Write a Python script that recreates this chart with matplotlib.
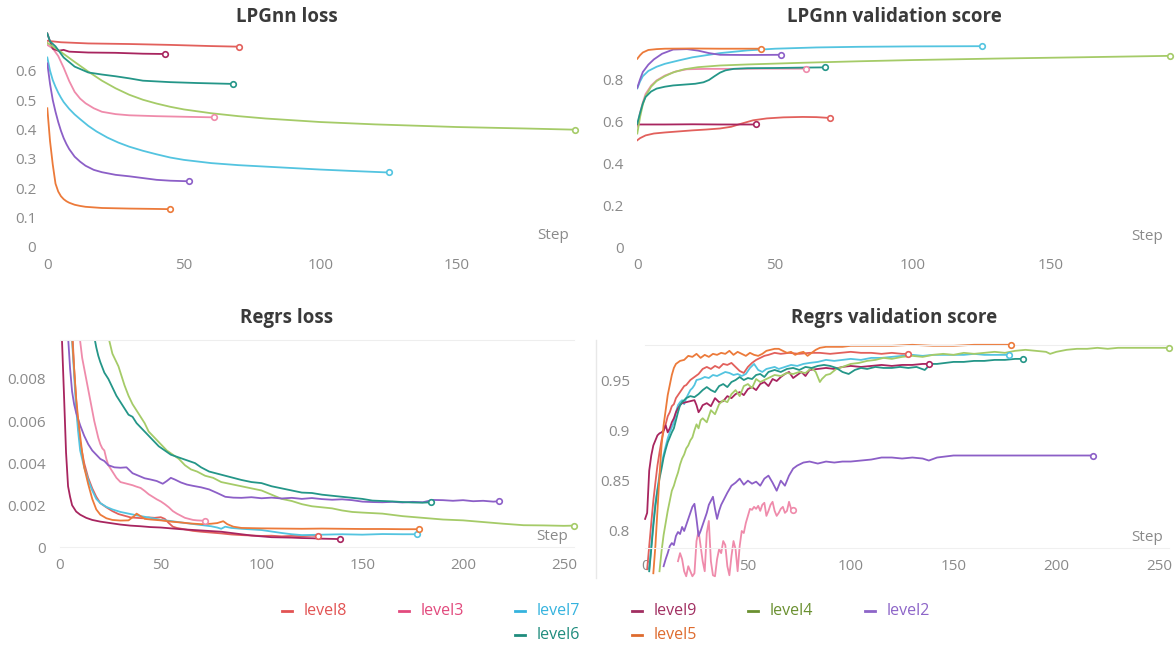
#!/usr/bin/env python3

import matplotlib
matplotlib.use('Agg')
import matplotlib.pyplot as plt
from matplotlib.lines import Line2D
from matplotlib.ticker import FuncFormatter

runs = ['level8', 'level3', 'level7', 'level9', 'level4', 'level2', 'level6', 'level5']
lineColors = ['#e2605c', '#ef8bab', '#53c4e0', '#a8255f', '#a5cb68', '#8c5fc7', '#249688', '#ec7a3a']
textColors = ['#e25353', '#e24a7d', '#35b3de', '#a12f61', '#6a9030', '#8d65c8', '#1f8c7d', '#de6b2f']

# ---- LPGnn loss ----
lploss_level8_step = [0, 5, 15, 30, 45, 60, 70]
lploss_level8 = [0.702, 0.697, 0.693, 0.691, 0.688, 0.684, 0.682]
lploss_level3_step = [0, 2, 4, 6, 8, 10, 12, 14, 17, 20, 25, 30, 40, 50, 61]
lploss_level3 = [0.688, 0.676, 0.650, 0.610, 0.565, 0.528, 0.505, 0.489, 0.472, 0.460, 0.452, 0.448, 0.445, 0.443, 0.441]
lploss_level7_step = [0, 1, 2, 3, 4, 5, 6, 8, 10, 12, 15, 18, 22, 26, 30, 35, 40, 45, 50, 60, 70, 80, 90, 100, 112, 125]
lploss_level7 = [0.645, 0.600, 0.568, 0.545, 0.525, 0.508, 0.493, 0.470, 0.451, 0.435, 0.412, 0.393, 0.372, 0.355, 0.341, 0.327, 0.315, 0.304, 0.296, 0.285, 0.278, 0.273, 0.268, 0.263, 0.258, 0.253]
lploss_level9_step = [0, 1, 2, 4, 6, 8, 15, 25, 35, 43]
lploss_level9 = [0.727, 0.700, 0.675, 0.668, 0.671, 0.665, 0.662, 0.661, 0.658, 0.657]
lploss_level4_step = [0, 5, 10, 15, 20, 25, 30, 35, 40, 45, 50, 60, 70, 80, 100, 120, 150, 175, 193]
lploss_level4 = [0.695, 0.664, 0.630, 0.597, 0.566, 0.540, 0.518, 0.501, 0.488, 0.477, 0.468, 0.455, 0.445, 0.437, 0.425, 0.417, 0.408, 0.403, 0.399]
lploss_level2_step = [0, 1, 2, 3, 4, 5, 6, 7, 8, 10, 12, 14, 17, 20, 25, 30, 35, 40, 45, 52]
lploss_level2 = [0.625, 0.555, 0.500, 0.460, 0.425, 0.395, 0.370, 0.350, 0.333, 0.307, 0.290, 0.276, 0.262, 0.254, 0.245, 0.240, 0.234, 0.228, 0.225, 0.223]
lploss_level6_step = [0, 1, 3, 6, 10, 15, 20, 25, 30, 35, 45, 55, 68]
lploss_level6 = [0.727, 0.700, 0.683, 0.645, 0.614, 0.594, 0.587, 0.581, 0.574, 0.566, 0.561, 0.558, 0.555]
lploss_level5_step = [0, 1, 2, 3, 4, 5, 6, 7, 8, 10, 12, 14, 17, 20, 25, 30, 38, 45]
lploss_level5 = [0.472, 0.360, 0.280, 0.215, 0.188, 0.172, 0.162, 0.155, 0.150, 0.143, 0.139, 0.136, 0.134, 0.132, 0.131, 0.130, 0.129, 0.128]

# ---- LPGnn validation score ----
lpval_level8_step = [0, 1, 3, 6, 10, 15, 20, 25, 30, 34, 38, 42, 47, 53, 60, 65, 70]
lpval_level8 = [0.510, 0.520, 0.533, 0.542, 0.547, 0.552, 0.557, 0.561, 0.566, 0.574, 0.590, 0.605, 0.614, 0.619, 0.621, 0.620, 0.616]
lpval_level3_step = [0, 1, 2, 3, 5, 7, 10, 14, 18, 25, 35, 45, 61]
lpval_level3 = [0.575, 0.640, 0.690, 0.730, 0.770, 0.795, 0.818, 0.838, 0.848, 0.850, 0.850, 0.851, 0.851]
lpval_level7_step = [0, 1, 2, 4, 7, 10, 15, 20, 30, 40, 50, 65, 80, 100, 125]
lpval_level7 = [0.757, 0.790, 0.815, 0.840, 0.860, 0.874, 0.890, 0.905, 0.925, 0.938, 0.946, 0.952, 0.955, 0.957, 0.958]
lpval_level9_step = [0, 10, 20, 30, 43]
lpval_level9 = [0.585, 0.585, 0.586, 0.585, 0.585]
lpval_level4_step = [0, 1, 2, 3, 5, 7, 10, 13, 17, 22, 30, 40, 60, 80, 100, 130, 160, 193]
lpval_level4 = [0.542, 0.620, 0.680, 0.720, 0.765, 0.792, 0.815, 0.833, 0.848, 0.858, 0.866, 0.871, 0.879, 0.886, 0.892, 0.899, 0.905, 0.912]
lpval_level2_step = [0, 1, 2, 4, 6, 9, 13, 18, 22, 26, 30, 40, 52]
lpval_level2 = [0.760, 0.800, 0.835, 0.870, 0.895, 0.922, 0.942, 0.944, 0.937, 0.925, 0.917, 0.916, 0.917]
lpval_level6_step = [0, 1, 2, 3, 5, 7, 10, 13, 17, 21, 24, 26, 28, 30, 32, 35, 40, 50, 60, 68]
lpval_level6 = [0.589, 0.640, 0.685, 0.716, 0.742, 0.756, 0.765, 0.771, 0.775, 0.779, 0.786, 0.797, 0.815, 0.832, 0.843, 0.850, 0.853, 0.854, 0.856, 0.857]
lpval_level5_step = [0, 1, 2, 4, 7, 10, 20, 30, 45]
lpval_level5 = [0.898, 0.915, 0.928, 0.940, 0.944, 0.946, 0.947, 0.946, 0.946]

# ---- Regrs loss ----
rgloss_level8_step = [6, 7, 8, 9, 10, 12, 14, 16, 18, 20, 23, 26, 29, 32, 35, 38, 41, 44, 47, 50, 52, 54, 56, 58, 62, 66, 70, 75, 80, 85, 90, 95, 100, 105, 110, 115, 120, 125, 128]
rgloss_level8 = [0.0105, 0.0085, 0.0070, 0.0058, 0.0050, 0.0040, 0.0033, 0.0028, 0.0024, 0.0021, 0.00190, 0.00172, 0.00158, 0.00150, 0.00142, 0.00140, 0.00138, 0.00142, 0.00140, 0.00143, 0.00135, 0.00115, 0.00098, 0.00092, 0.00085, 0.00078, 0.00074, 0.00070, 0.00066, 0.00061, 0.00058, 0.00056, 0.00054, 0.00055, 0.00052, 0.00054, 0.00053, 0.00055, 0.00054]
rgloss_level3_step = [9, 10, 11, 12, 13, 14, 15, 16, 17, 18, 19, 20, 21, 22, 23, 24, 26, 28, 30, 32, 34, 36, 38, 40, 42, 44, 46, 48, 50, 52, 54, 56, 58, 60, 62, 64, 66, 68, 70, 72]
rgloss_level3 = [0.0110, 0.0098, 0.0090, 0.0085, 0.0080, 0.0075, 0.0070, 0.0065, 0.0060, 0.0056, 0.0052, 0.0049, 0.0047, 0.0046, 0.0042, 0.0039, 0.0036, 0.0033, 0.0031, 0.00305, 0.00300, 0.00295, 0.00288, 0.00282, 0.00268, 0.00252, 0.00240, 0.00228, 0.00218, 0.00205, 0.00190, 0.00172, 0.00160, 0.00150, 0.00140, 0.00135, 0.00130, 0.00128, 0.00127, 0.00125]
rgloss_level7_step = [5, 6, 7, 8, 9, 10, 12, 14, 16, 18, 20, 23, 26, 30, 34, 38, 42, 46, 50, 55, 60, 65, 70, 75, 78, 80, 82, 85, 90, 95, 100, 105, 110, 115, 120, 130, 140, 150, 160, 170, 177]
rgloss_level7 = [0.0118, 0.0098, 0.0082, 0.0066, 0.0055, 0.0046, 0.0038, 0.0032, 0.0027, 0.0023, 0.0021, 0.00192, 0.00180, 0.00168, 0.00160, 0.00152, 0.00145, 0.00138, 0.00130, 0.00125, 0.00118, 0.00112, 0.00106, 0.00100, 0.00094, 0.00088, 0.00098, 0.00092, 0.00088, 0.00085, 0.00082, 0.00075, 0.00068, 0.00062, 0.00058, 0.00060, 0.00062, 0.00060, 0.00063, 0.00062, 0.00062]
rgloss_level9_step = [0, 1, 2, 3, 4, 5, 6, 8, 10, 13, 16, 20, 25, 30, 35, 40, 45, 50, 55, 60, 65, 70, 75, 80, 85, 90, 95, 100, 105, 110, 115, 120, 125, 130, 135, 139]
rgloss_level9 = [0.0125, 0.0098, 0.0072, 0.0045, 0.0029, 0.0024, 0.0020, 0.0017, 0.00155, 0.00140, 0.00130, 0.00122, 0.00115, 0.00108, 0.00103, 0.00100, 0.00096, 0.00094, 0.00090, 0.00086, 0.00083, 0.00080, 0.00077, 0.00074, 0.00068, 0.00062, 0.00056, 0.00052, 0.00048, 0.00047, 0.00046, 0.00044, 0.00043, 0.00041, 0.00040, 0.00039]
rgloss_level4_step = [24, 25, 26, 27, 28, 29, 30, 32, 34, 36, 38, 40, 42, 44, 46, 48, 50, 53, 56, 59, 62, 65, 68, 72, 76, 80, 85, 90, 95, 100, 105, 110, 115, 120, 125, 130, 135, 140, 145, 150, 160, 170, 180, 190, 200, 210, 220, 230, 240, 250, 255]
rgloss_level4 = [0.0100, 0.0096, 0.0092, 0.0090, 0.0088, 0.0086, 0.0083, 0.0077, 0.0072, 0.0068, 0.0065, 0.0062, 0.0059, 0.0055, 0.0053, 0.0051, 0.0049, 0.0046, 0.0044, 0.0042, 0.0039, 0.0037, 0.0036, 0.0034, 0.0033, 0.0031, 0.0030, 0.0029, 0.0028, 0.0027, 0.0025, 0.0023, 0.0022, 0.00205, 0.00195, 0.0019, 0.00185, 0.00175, 0.00168, 0.00165, 0.00160, 0.00148, 0.00140, 0.00132, 0.00128, 0.00120, 0.00112, 0.00105, 0.00104, 0.00102, 0.00103]
rgloss_level2_step = [4, 5, 6, 7, 8, 9, 10, 12, 14, 16, 18, 20, 22, 24, 27, 30, 33, 36, 39, 42, 45, 48, 51, 53, 55, 57, 60, 63, 66, 70, 74, 78, 82, 86, 90, 95, 100, 105, 110, 115, 120, 125, 130, 135, 140, 145, 150, 155, 160, 165, 170, 175, 180, 185, 190, 195, 200, 205, 210, 215, 218]
rgloss_level2 = [0.0100, 0.0085, 0.0074, 0.0068, 0.0064, 0.0061, 0.0058, 0.0053, 0.0049, 0.0046, 0.0044, 0.0042, 0.0041, 0.0039, 0.0038, 0.00378, 0.00380, 0.00352, 0.00340, 0.00328, 0.00322, 0.00315, 0.00302, 0.00315, 0.00330, 0.00322, 0.00308, 0.00298, 0.00292, 0.00285, 0.00275, 0.00258, 0.00240, 0.00236, 0.00235, 0.00238, 0.00233, 0.00236, 0.00232, 0.00235, 0.00230, 0.00234, 0.00229, 0.00226, 0.00228, 0.00224, 0.00217, 0.00215, 0.00214, 0.00216, 0.00213, 0.00216, 0.00214, 0.00225, 0.00224, 0.00221, 0.00224, 0.00219, 0.00221, 0.00217, 0.00219]
rgloss_level6_step = [17, 18, 19, 20, 22, 24, 26, 28, 30, 32, 34, 36, 38, 40, 43, 46, 49, 52, 55, 58, 61, 64, 67, 70, 74, 78, 82, 86, 90, 95, 100, 105, 110, 115, 120, 125, 130, 135, 140, 145, 150, 155, 160, 165, 170, 175, 180, 184]
rgloss_level6 = [0.0100, 0.0095, 0.0091, 0.0088, 0.0083, 0.0080, 0.0076, 0.0072, 0.0069, 0.0066, 0.0063, 0.0062, 0.0059, 0.0057, 0.0054, 0.0051, 0.0048, 0.0046, 0.0044, 0.0043, 0.0042, 0.0041, 0.0040, 0.0038, 0.0036, 0.0035, 0.0034, 0.0033, 0.0032, 0.0031, 0.00305, 0.0029, 0.0028, 0.0027, 0.0026, 0.00258, 0.0025, 0.00245, 0.0024, 0.00235, 0.0023, 0.00222, 0.0022, 0.00218, 0.00215, 0.00213, 0.00212, 0.00214]
rgloss_level5_step = [5, 6, 7, 8, 9, 10, 11, 12, 14, 16, 18, 20, 23, 26, 30, 34, 37, 38, 40, 42, 45, 50, 55, 60, 65, 70, 75, 78, 80, 81, 83, 86, 90, 100, 110, 120, 130, 140, 150, 160, 170, 178]
rgloss_level5 = [0.0120, 0.0100, 0.0085, 0.0071, 0.0061, 0.0053, 0.0045, 0.0038, 0.0030, 0.0023, 0.00180, 0.00155, 0.00138, 0.00130, 0.00127, 0.00128, 0.00150, 0.00160, 0.00148, 0.00135, 0.00132, 0.00128, 0.00122, 0.00118, 0.00113, 0.00110, 0.00112, 0.00115, 0.00121, 0.00124, 0.00110, 0.00098, 0.00092, 0.00090, 0.00089, 0.00088, 0.00089, 0.00088, 0.00087, 0.00087, 0.00086, 0.00086]

# ---- Regrs validation score ----
rgval_level8_step = [1, 2, 3, 4, 5, 6, 7, 8, 9, 10, 11, 12, 13, 14, 15, 16, 17, 18, 19, 20, 22, 24, 26, 28, 30, 32, 34, 36, 38, 40, 42, 44, 46, 48, 50, 52, 54, 56, 58, 60, 63, 66, 70, 75, 80, 85, 90, 95, 100, 105, 110, 115, 120, 125, 128]
rgval_level8 = [0.762, 0.785, 0.808, 0.830, 0.848, 0.865, 0.878, 0.890, 0.899, 0.906, 0.914, 0.918, 0.924, 0.926, 0.932, 0.935, 0.938, 0.941, 0.944, 0.945, 0.950, 0.953, 0.956, 0.961, 0.963, 0.961, 0.964, 0.962, 0.966, 0.965, 0.967, 0.963, 0.959, 0.957, 0.963, 0.967, 0.970, 0.972, 0.974, 0.975, 0.977, 0.976, 0.977, 0.976, 0.977, 0.977, 0.976, 0.977, 0.978, 0.977, 0.977, 0.976, 0.977, 0.976, 0.976]
rgval_level3_step = [16, 17, 18, 19, 20, 21, 22, 23, 24, 25, 26, 27, 28, 29, 30, 31, 32, 33, 34, 35, 36, 37, 38, 39, 40, 41, 42, 43, 44, 45, 46, 47, 48, 49, 50, 51, 52, 53, 54, 55, 56, 57, 58, 59, 60, 61, 62, 63, 64, 65, 66, 67, 68, 69, 70, 71, 72]
rgval_level3 = [0.770, 0.778, 0.772, 0.760, 0.755, 0.765, 0.760, 0.755, 0.758, 0.790, 0.800, 0.785, 0.770, 0.760, 0.798, 0.810, 0.770, 0.756, 0.755, 0.772, 0.782, 0.778, 0.790, 0.786, 0.765, 0.756, 0.775, 0.790, 0.782, 0.760, 0.785, 0.800, 0.798, 0.808, 0.815, 0.822, 0.821, 0.824, 0.822, 0.825, 0.820, 0.826, 0.828, 0.815, 0.820, 0.826, 0.829, 0.820, 0.815, 0.818, 0.822, 0.824, 0.818, 0.820, 0.829, 0.822, 0.821]
rgval_level7_step = [2, 3, 4, 5, 6, 7, 8, 9, 10, 11, 12, 13, 14, 15, 16, 17, 18, 19, 20, 21, 22, 23, 24, 25, 27, 29, 31, 33, 35, 37, 39, 41, 43, 45, 47, 49, 51, 53, 55, 57, 59, 61, 63, 65, 68, 71, 74, 77, 80, 84, 88, 92, 96, 100, 105, 110, 115, 120, 125, 130, 135, 140, 145, 150, 155, 160, 165, 170, 177]
rgval_level7 = [0.762, 0.785, 0.808, 0.828, 0.842, 0.856, 0.866, 0.876, 0.884, 0.892, 0.898, 0.903, 0.908, 0.918, 0.925, 0.928, 0.930, 0.926, 0.932, 0.936, 0.940, 0.942, 0.945, 0.950, 0.951, 0.953, 0.952, 0.955, 0.954, 0.956, 0.958, 0.957, 0.955, 0.956, 0.954, 0.956, 0.962, 0.966, 0.960, 0.958, 0.961, 0.962, 0.963, 0.961, 0.963, 0.965, 0.964, 0.966, 0.967, 0.968, 0.970, 0.969, 0.970, 0.971, 0.970, 0.972, 0.972, 0.973, 0.974, 0.975, 0.974, 0.975, 0.975, 0.975, 0.975, 0.976, 0.975, 0.975, 0.975]
rgval_level9_step = [0, 1, 2, 3, 4, 5, 6, 7, 8, 9, 10, 11, 12, 13, 14, 15, 16, 17, 18, 20, 22, 24, 25, 26, 27, 28, 30, 32, 34, 36, 38, 40, 42, 44, 46, 48, 50, 52, 54, 56, 58, 60, 62, 64, 66, 68, 70, 72, 74, 76, 78, 80, 84, 88, 92, 96, 100, 105, 110, 115, 120, 125, 130, 135, 138]
rgval_level9 = [0.812, 0.818, 0.860, 0.875, 0.885, 0.890, 0.895, 0.897, 0.898, 0.900, 0.905, 0.898, 0.902, 0.908, 0.912, 0.918, 0.922, 0.925, 0.927, 0.928, 0.929, 0.930, 0.925, 0.918, 0.921, 0.925, 0.927, 0.924, 0.932, 0.928, 0.929, 0.934, 0.932, 0.936, 0.938, 0.935, 0.941, 0.943, 0.940, 0.946, 0.948, 0.944, 0.951, 0.949, 0.953, 0.956, 0.958, 0.952, 0.955, 0.958, 0.954, 0.960, 0.961, 0.962, 0.961, 0.963, 0.964, 0.963, 0.964, 0.965, 0.964, 0.965, 0.965, 0.966, 0.966]
rgval_level4_step = [7, 8, 9, 10, 11, 12, 13, 14, 15, 16, 17, 18, 19, 20, 21, 22, 23, 24, 25, 26, 27, 28, 30, 32, 34, 36, 38, 40, 42, 44, 46, 48, 50, 52, 54, 56, 58, 60, 63, 66, 69, 72, 75, 78, 81, 83, 85, 86, 88, 90, 93, 96, 100, 104, 108, 112, 116, 120, 125, 130, 135, 140, 145, 150, 155, 160, 165, 170, 175, 180, 185, 190, 195, 197, 200, 205, 210, 215, 220, 225, 230, 235, 240, 245, 250, 255]
rgval_level4 = [0.760, 0.780, 0.796, 0.808, 0.820, 0.830, 0.840, 0.845, 0.852, 0.858, 0.866, 0.872, 0.876, 0.882, 0.885, 0.890, 0.893, 0.900, 0.906, 0.902, 0.910, 0.912, 0.908, 0.920, 0.916, 0.926, 0.930, 0.928, 0.936, 0.940, 0.934, 0.944, 0.946, 0.942, 0.951, 0.948, 0.950, 0.952, 0.955, 0.954, 0.957, 0.956, 0.958, 0.957, 0.962, 0.958, 0.948, 0.951, 0.955, 0.956, 0.961, 0.963, 0.966, 0.967, 0.969, 0.970, 0.972, 0.971, 0.973, 0.974, 0.973, 0.975, 0.976, 0.975, 0.977, 0.976, 0.977, 0.978, 0.977, 0.979, 0.980, 0.979, 0.978, 0.976, 0.978, 0.980, 0.981, 0.981, 0.982, 0.981, 0.982, 0.982, 0.982, 0.982, 0.982, 0.982]
rgval_level2_step = [9, 10, 11, 12, 13, 14, 15, 16, 17, 18, 19, 20, 21, 22, 23, 24, 25, 26, 27, 28, 29, 30, 31, 32, 33, 34, 35, 36, 37, 38, 40, 42, 44, 46, 48, 50, 52, 54, 56, 58, 60, 62, 64, 66, 68, 70, 72, 74, 77, 80, 84, 88, 92, 96, 100, 105, 110, 115, 120, 125, 130, 135, 138, 142, 146, 150, 160, 170, 180, 190, 200, 210, 218]
rgval_level2 = [0.765, 0.772, 0.778, 0.785, 0.788, 0.786, 0.795, 0.799, 0.797, 0.804, 0.800, 0.806, 0.812, 0.818, 0.824, 0.827, 0.812, 0.795, 0.800, 0.806, 0.812, 0.818, 0.826, 0.830, 0.834, 0.822, 0.812, 0.820, 0.826, 0.830, 0.838, 0.845, 0.848, 0.852, 0.846, 0.850, 0.847, 0.849, 0.845, 0.852, 0.855, 0.848, 0.840, 0.850, 0.845, 0.855, 0.862, 0.865, 0.868, 0.869, 0.867, 0.869, 0.868, 0.869, 0.869, 0.870, 0.871, 0.873, 0.873, 0.872, 0.873, 0.872, 0.870, 0.873, 0.874, 0.875, 0.875, 0.875, 0.875, 0.875, 0.875, 0.875, 0.875]
rgval_level6_step = [2, 3, 4, 5, 6, 7, 8, 9, 10, 11, 12, 13, 14, 15, 16, 17, 18, 20, 22, 24, 26, 28, 30, 32, 34, 36, 38, 40, 42, 44, 46, 48, 50, 52, 54, 56, 58, 60, 63, 66, 69, 72, 75, 78, 81, 84, 87, 90, 93, 96, 99, 102, 105, 108, 112, 116, 120, 124, 128, 132, 136, 139, 142, 146, 150, 155, 160, 165, 170, 175, 180, 184]
rgval_level6 = [0.760, 0.782, 0.805, 0.825, 0.840, 0.852, 0.862, 0.873, 0.881, 0.888, 0.893, 0.898, 0.902, 0.910, 0.918, 0.925, 0.928, 0.932, 0.934, 0.933, 0.936, 0.940, 0.943, 0.940, 0.938, 0.944, 0.946, 0.943, 0.948, 0.950, 0.953, 0.950, 0.952, 0.951, 0.955, 0.956, 0.953, 0.958, 0.960, 0.958, 0.961, 0.962, 0.960, 0.963, 0.962, 0.964, 0.965, 0.964, 0.962, 0.958, 0.956, 0.960, 0.962, 0.961, 0.963, 0.962, 0.962, 0.963, 0.962, 0.963, 0.960, 0.966, 0.966, 0.967, 0.968, 0.968, 0.969, 0.969, 0.970, 0.970, 0.971, 0.971]
rgval_level5_step = [4, 5, 6, 7, 8, 9, 10, 11, 12, 13, 14, 15, 17, 19, 21, 23, 25, 27, 29, 31, 33, 35, 37, 39, 41, 43, 45, 47, 49, 51, 53, 55, 57, 59, 61, 63, 65, 67, 69, 71, 73, 75, 77, 79, 81, 83, 85, 88, 92, 96, 100, 110, 120, 130, 140, 150, 160, 170, 178]
rgval_level5 = [0.758, 0.785, 0.820, 0.855, 0.885, 0.905, 0.920, 0.935, 0.945, 0.955, 0.962, 0.966, 0.969, 0.970, 0.974, 0.973, 0.976, 0.972, 0.975, 0.973, 0.976, 0.975, 0.977, 0.976, 0.979, 0.975, 0.978, 0.976, 0.974, 0.977, 0.975, 0.974, 0.976, 0.979, 0.980, 0.981, 0.981, 0.979, 0.977, 0.978, 0.975, 0.977, 0.978, 0.974, 0.977, 0.980, 0.982, 0.983, 0.983, 0.983, 0.984, 0.984, 0.984, 0.985, 0.984, 0.984, 0.985, 0.985, 0.985]

panels = [
  ('LPGnn loss', [
    (lploss_level8_step, lploss_level8), (lploss_level3_step, lploss_level3),
    (lploss_level7_step, lploss_level7), (lploss_level9_step, lploss_level9),
    (lploss_level4_step, lploss_level4), (lploss_level2_step, lploss_level2),
    (lploss_level6_step, lploss_level6), (lploss_level5_step, lploss_level5)]),
  ('LPGnn validation score', [
    (lpval_level8_step, lpval_level8), (lpval_level3_step, lpval_level3),
    (lpval_level7_step, lpval_level7), (lpval_level9_step, lpval_level9),
    (lpval_level4_step, lpval_level4), (lpval_level2_step, lpval_level2),
    (lpval_level6_step, lpval_level6), (lpval_level5_step, lpval_level5)]),
  ('Regrs loss', [
    (rgloss_level8_step, rgloss_level8), (rgloss_level3_step, rgloss_level3),
    (rgloss_level7_step, rgloss_level7), (rgloss_level9_step, rgloss_level9),
    (rgloss_level4_step, rgloss_level4), (rgloss_level2_step, rgloss_level2),
    (rgloss_level6_step, rgloss_level6), (rgloss_level5_step, rgloss_level5)]),
  ('Regrs validation score', [
    (rgval_level8_step, rgval_level8), (rgval_level3_step, rgval_level3),
    (rgval_level7_step, rgval_level7), (rgval_level9_step, rgval_level9),
    (rgval_level4_step, rgval_level4), (rgval_level2_step, rgval_level2),
    (rgval_level6_step, rgval_level6), (rgval_level5_step, rgval_level5)]),
]

# layout in pixels of a 1175x646 canvas
W, H = 1175, 646
def box(x0, x1, ytop, ybot):
  return [x0/W, 1-ybot/H, (x1-x0)/W, (ybot-ytop)/H]

boxes = [box(47.3, 574.6, 31.7, 246.7), box(637.3, 1169.5, 31.7, 247.3),
         box(60, 573.9, 340, 547.3), box(645.1, 1169.4, 345, 548.3)]
xlims = [(0, 193), (0, 193), (0, 255), (0, 255)]
ylims = [(0, 0.733), (0, 1.027), (0, 0.00985), (0.7828, 0.9848)]
yticks = [[0, 0.1, 0.2, 0.3, 0.4, 0.5, 0.6], [0, 0.2, 0.4, 0.6, 0.8],
          [0, 0.002, 0.004, 0.006, 0.008], [0.8, 0.85, 0.9, 0.95]]
xticks = [[0, 50, 100, 150], [0, 50, 100, 150],
          [0, 50, 100, 150, 200, 250], [0, 50, 100, 150, 200, 250]]
ypads = [8, 10, 10, 11]
titlePos = [(287, 17), (894, 17), (287, 318), (894, 318)]

font = 'Open Sans'
tickGrey = '#8a8a8a'

fig = plt.figure(figsize=(11.75, 6.46), dpi=100)

for i, (title, series) in enumerate(panels):
  ax = fig.add_axes(boxes[i])
  # the score panel at bottom right lets early lines run below its frame
  clip = (i != 3)
  for j, (xs, ys) in enumerate(series):
    ax.plot(xs, ys, color=lineColors[j], lw=1.3, solid_joinstyle='round', clip_on=clip)
    ax.plot(xs[-1], ys[-1], 'o', ms=4, mfc='white', mec=lineColors[j], mew=1.2,
            zorder=5, clip_on=False)
  ax.set_xlim(*xlims[i])
  ax.set_ylim(*ylims[i])
  ax.set_xticks(xticks[i])
  ax.set_yticks(yticks[i])
  ax.yaxis.set_major_formatter(FuncFormatter(lambda v, p: '%g' % v))
  ax.tick_params(length=0, labelsize=11, labelcolor=tickGrey)
  ax.tick_params(axis='x', pad=8)
  ax.tick_params(axis='y', pad=ypads[i])
  for lab in ax.get_xticklabels() + ax.get_yticklabels():
    lab.set_fontfamily(font)
  for s in ax.spines.values():
    s.set_visible(False)
  if i >= 2:
    ax.spines['top'].set_visible(True)
    ax.spines['top'].set_color('#eeeeee')
    ax.spines['bottom'].set_visible(True)
    ax.spines['bottom'].set_color('#f0f0f0')
  ax.annotate('Step', xy=(1, 0), xycoords='axes fraction', xytext=(-6, 11),
              textcoords='offset pixels', ha='right', va='center',
              fontsize=11, color=tickGrey, family=font)
  fig.text(titlePos[i][0]/W, 1-titlePos[i][1]/H, title, ha='center', va='center',
           fontsize=13.5, fontweight='bold', color='#3a3a3a', family=font)

# thin separator left of the bottom-right panel
fig.add_artist(Line2D([596/W, 596/W], [1-578/H, 1-340/H], color='#e8e8e8', lw=1))

# legend: two rows of fixed-width slots
slot0, slotW = 287, 116.5
rows = [(611, [0, 1, 2, 3, 4, 5], 0), (635, [6, 7], 2)]
for y, idx, start in rows:
  for k, j in enumerate(idx):
    xm = slot0 + slotW*(start+k)
    fig.add_artist(Line2D([(xm-5)/W, (xm+5)/W], [1-y/H, 1-y/H], color=textColors[j], lw=2))
    fig.text((xm+17)/W, 1-y/H, runs[j], ha='left', va='center', fontsize=11.5,
             color=textColors[j], family=font)

plt.savefig('out.png', dpi=100)
